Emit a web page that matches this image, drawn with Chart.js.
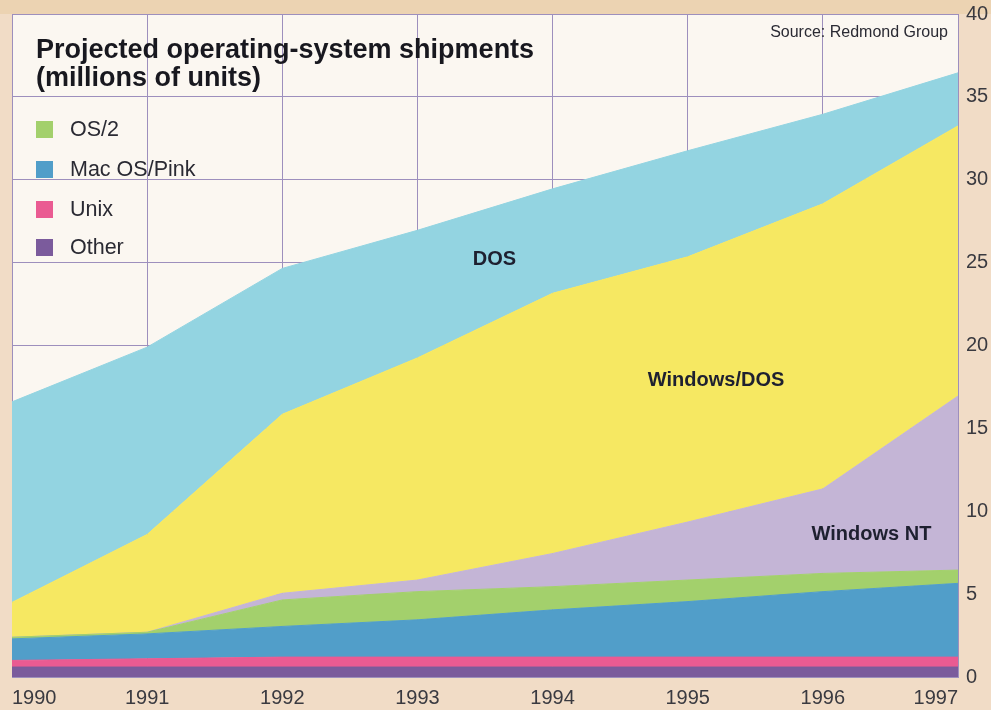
<!DOCTYPE html>
<html><head><meta charset="utf-8">
<script src="https://cdn.jsdelivr.net/npm/chart.js@4/dist/chart.umd.min.js"></script>
<style>html,body{margin:0;padding:0;background:#f1dcc6;overflow:hidden} canvas{display:block}</style>
</head><body>
<canvas id="c" width="991" height="710"></canvas>
<script>
const years = ['1990','1991','1992','1993','1994','1995','1996','1997'];
const yTicks = [0,5,10,15,20,25,30,35,40];
const other      = [0.6, 0.6, 0.6, 0.6, 0.6, 0.6, 0.6, 0.6];
const unix       = [0.4, 0.5, 0.6, 0.6, 0.6, 0.6, 0.6, 0.6];
const macOsPink  = [1.3, 1.5, 1.85, 2.25, 2.85, 3.35, 3.95, 4.45];
const os2        = [0.1, 0.1, 1.6, 1.7, 1.4, 1.3, 1.1, 0.8];
const windowsNT  = [0, 0, 0.4, 0.7, 2.0, 3.5, 5.1, 10.5];
const windowsDOS = [2.1, 5.9, 10.8, 13.4, 15.7, 16.0, 17.2, 16.3];
const dos        = [12.1, 11.3, 8.8, 7.7, 6.3, 6.4, 5.4, 3.2];

const titleLines = ['Projected operating-system shipments', '(millions of units)'];
const sourceText = 'Source: Redmond Group';
const legendItems = [
  {label:'OS/2', color:'#a3d06c'},
  {label:'Mac OS/Pink', color:'#519ec9'},
  {label:'Unix', color:'#ea5b92'},
  {label:'Other', color:'#7b5b9c'}
];
const areaLabels = [
  {text:'DOS', x:3.57, y:25.2},
  {text:'Windows/DOS', x:5.21, y:17.9},
  {text:'Windows NT', x:6.36, y:8.6}
];

const FONT = '"Liberation Sans", Arial, Helvetica, sans-serif';

function ds(label, data, color, fill){
  return {label, data, backgroundColor:color, borderColor:color, borderWidth:1,
    pointRadius:0, pointHoverRadius:0, fill, tension:0};
}

const decor = {
  id:'decor',
  beforeDraw(chart){
    const {ctx, chartArea:a} = chart;
    ctx.save();
    ctx.fillStyle = '#ecd3b2';
    ctx.fillRect(0, 0, chart.width, a.top);
    ctx.fillStyle = '#fbf7f1';
    ctx.fillRect(a.left, a.top, a.right-a.left, a.bottom-a.top);
    ctx.restore();
  },
  afterDraw(chart){
    const {ctx, scales} = chart;
    const xs = scales.x, ys = scales.y;
    ctx.save();
    ctx.fillStyle = '#18181f';
    ctx.textBaseline = 'middle';
    ctx.textAlign = 'left';
    ctx.font = 'bold 27px ' + FONT;
    ctx.fillText(titleLines[0], 36, 51);
    ctx.fillText(titleLines[1], 36, 79);
    ctx.font = '21.5px ' + FONT;
    const ly = [130, 170, 210, 248];
    legendItems.forEach((it,i)=>{
      ctx.fillStyle = it.color;
      ctx.fillRect(36, ly[i]-9, 17, 17);
      ctx.fillStyle = '#2a2a33';
      ctx.fillText(it.label, 70, ly[i]);
    });
    ctx.font = '16px ' + FONT;
    ctx.textAlign = 'right';
    ctx.fillText(sourceText, 948, 33);
    ctx.font = 'bold 20px ' + FONT;
    ctx.textAlign = 'center';
    ctx.fillStyle = '#1e2030';
    areaLabels.forEach(l=>{
      ctx.fillText(l.text, xs.getPixelForValue(l.x), ys.getPixelForValue(l.y));
    });
    ctx.restore();
  }
};

new Chart(document.getElementById('c'), {
  type:'line',
  data:{
    labels: years,
    datasets:[
      ds('Other', other, '#7b5b9c', 'origin'),
      ds('Unix', unix, '#ea5b92', '-1'),
      ds('Mac OS/Pink', macOsPink, '#519ec9', '-1'),
      ds('OS/2', os2, '#a3d06c', '-1'),
      ds('Windows NT', windowsNT, '#c4b5d6', '-1'),
      ds('Windows/DOS', windowsDOS, '#f6e862', '-1'),
      ds('DOS', dos, '#93d4e1', '-1')
    ]
  },
  options:{
    responsive:false,
    animation:false,
    events:[],
    layout:{padding:{left:12, top:14, right:0, bottom:0}},
    plugins:{legend:{display:false}, tooltip:{enabled:false}, title:{display:false}},
    scales:{
      x:{
        offset:false,
        grid:{color:'#9d8fbd', lineWidth:1, drawTicks:false},
        border:{display:false},
        ticks:{font:{family:FONT, size:20}, color:'#3a3a40', padding:9, align:'inner', maxRotation:0, autoSkip:false},
        afterFit(s){ s.height = 33; s.paddingLeft = 0; s.paddingRight = 0; }
      },
      y:{
        position:'right',
        stacked:true,
        min:0, max:40,
        afterBuildTicks(s){ s.ticks = yTicks.map(v=>({value:v})); },
        grid:{color:'#9d8fbd', lineWidth:1, drawTicks:false},
        border:{display:true, color:'#9d8fbd'},
        ticks:{font:{family:FONT, size:20}, color:'#3a3a40', padding:8},
        afterFit(s){ s.width = 33; s.paddingTop = 0; s.paddingBottom = 0; }
      }
    }
  },
  plugins:[decor]
});
</script>
</body></html>
